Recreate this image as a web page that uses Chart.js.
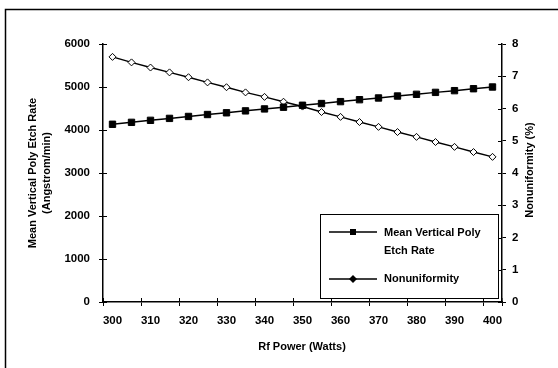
<!DOCTYPE html>
<html>
<head>
<meta charset="utf-8">
<script src="https://cdn.jsdelivr.net/npm/chart.js@4.4.1/dist/chart.umd.min.js"></script>
<style>
  html, body { margin: 0; padding: 0; background: #fff; }
  #wrap { position: relative; width: 558px; height: 368px; }
</style>
</head>
<body>
<div id="wrap"><canvas id="etch_chart" width="558" height="368"></canvas></div>
<script>
const rfPower = [300, 305, 310, 315, 320, 325, 330, 335, 340, 345, 350,
                 355, 360, 365, 370, 375, 380, 385, 390, 395, 400]
const etchRate = [4133, 4178, 4225, 4270, 4315, 4360, 4400, 4445, 4490, 4530, 4575,
                  4615, 4660, 4705, 4745, 4790, 4830, 4875, 4915, 4960, 5000]
const nonuniformity = [7.60, 7.43, 7.27, 7.12, 6.97, 6.81, 6.66, 6.50, 6.36, 6.21, 6.06,
                       5.89, 5.74, 5.58, 5.43, 5.27, 5.12, 4.96, 4.81, 4.65, 4.50]
const etchLabel = 'Mean Vertical Poly Etch Rate'
const nonuLabel = 'Nonuniformity'

const FONT = '"Liberation Sans", Arial, sans-serif'
Chart.defaults.font.family = FONT
Chart.defaults.color = '#000'

// frame, inner tick halves, axis titles and the legend box
const decor = {
  id: 'decor',
  afterDraw(chart) {
    const {ctx, chartArea: a, scales} = chart
    ctx.save()
    ctx.strokeStyle = '#000'
    ctx.lineWidth = 1.5
    // outer frame (top + left visible in scan)
    ctx.beginPath()
    ctx.moveTo(5.5, 368); ctx.lineTo(5.5, 9.5); ctx.lineTo(558, 9.5)
    ctx.stroke()

    // inward halves of tick marks
    ctx.lineWidth = 1
    ctx.beginPath()
    scales.y.ticks.forEach(t => {
      const py = Math.round(scales.y.getPixelForValue(t.value)) + 0.5
      ctx.moveTo(a.left, py); ctx.lineTo(a.left + 4, py)
    })
    scales.y1.ticks.forEach(t => {
      const py = Math.round(scales.y1.getPixelForValue(t.value)) + 0.5
      ctx.moveTo(a.right, py); ctx.lineTo(a.right - 4, py)
    })
    const cw = (a.right - a.left) / rfPower.length
    for (let i = 0; i <= rfPower.length; i += 2) {
      const px = Math.round(scales.x.getPixelForValue(i) - cw / 2) + 0.5
      ctx.moveTo(px, a.bottom); ctx.lineTo(px, a.bottom - 4)
    }
    ctx.moveTo(a.right, a.bottom); ctx.lineTo(a.right, a.bottom - 4)
    ctx.stroke()

    // axis titles
    ctx.fillStyle = '#000'
    ctx.font = 'bold 11px ' + FONT
    ctx.textAlign = 'center'
    ctx.textBaseline = 'middle'
    ctx.fillText('Rf Power (Watts)', 302, 347)
    ctx.save()
    ctx.translate(33, 173); ctx.rotate(-Math.PI / 2)
    ctx.fillText('Mean Vertical Poly Etch Rate', 0, 0)
    ctx.fillText('(Angstrom/min)', 0, 14)
    ctx.restore()
    ctx.save()
    ctx.translate(530, 170); ctx.rotate(-Math.PI / 2)
    ctx.fillText('Nonuniformity (%)', 0, 0)
    ctx.restore()

    // legend box
    const lx = 320, ly = 214, lw = 178, lh = 84
    ctx.fillStyle = '#fff'
    ctx.fillRect(lx, ly, lw, lh)
    ctx.lineWidth = 1
    ctx.strokeRect(lx + 0.5, ly + 0.5, lw, lh)
    ctx.lineWidth = 1.5
    ctx.beginPath()
    ctx.moveTo(329, 232); ctx.lineTo(377, 232)
    ctx.moveTo(329, 279); ctx.lineTo(377, 279)
    ctx.stroke()
    ctx.fillStyle = '#000'
    ctx.fillRect(350, 229, 6, 6)
    ctx.beginPath()
    ctx.moveTo(353, 275); ctx.lineTo(357, 279); ctx.lineTo(353, 283); ctx.lineTo(349, 279)
    ctx.closePath(); ctx.fill()
    ctx.font = 'bold 11px ' + FONT
    ctx.textAlign = 'left'
    ctx.fillText('Mean Vertical Poly', 384, 233)
    ctx.fillText('Etch Rate', 384, 251)
    ctx.fillText(nonuLabel, 384, 279)
    ctx.restore()
  }
}

const tickFont = {size: 11.5, weight: 'bold'}

new Chart(document.getElementById('etch_chart').getContext('2d'), {
  type: 'line',
  data: {
    labels: rfPower.map(String),
    datasets: [{
      label: etchLabel,
      data: etchRate,
      yAxisID: 'y',
      borderColor: '#000',
      borderWidth: 1.5,
      backgroundColor: '#000',
      pointStyle: 'rect',
      pointRadius: 4.5,
      pointBorderWidth: 1,
      pointBackgroundColor: '#000',
      tension: 0
    }, {
      label: nonuLabel,
      data: nonuniformity,
      yAxisID: 'y1',
      borderColor: '#000',
      borderWidth: 1.5,
      pointStyle: 'rectRot',
      pointRadius: 3.5,
      pointBorderWidth: 1,
      pointBackgroundColor: '#fff',
      tension: 0
    }]
  },
  options: {
    responsive: false,
    animation: false,
    layout: {padding: {top: 44, left: 0, right: 0, bottom: 0}},
    plugins: {legend: {display: false}, tooltip: {enabled: false}},
    scales: {
      x: {
        type: 'category',
        offset: true,
        afterFit: s => { s.height = 66 },
        border: {color: '#000', width: 1.5},
        grid: {
          offset: true,
          drawOnChartArea: false,
          tickLength: 4,
          color: c => (c.index === undefined || c.index % 2 === 0) ? '#000' : 'rgba(0,0,0,0)'
        },
        ticks: {
          autoSkip: false,
          maxRotation: 0,
          padding: 8,
          font: tickFont,
          callback: (v, i) => i % 2 === 0 ? rfPower[i] : ''
        }
      },
      y: {
        position: 'left',
        min: 0, max: 6000,
        afterFit: s => { s.width = 103 },
        border: {color: '#000', width: 1.5},
        grid: {drawOnChartArea: false, tickLength: 4, color: '#000'},
        ticks: {stepSize: 1000, padding: 9, font: tickFont, callback: v => String(v)}
      },
      y1: {
        position: 'right',
        min: 0, max: 8,
        afterFit: s => { s.width = 56 },
        border: {color: '#000', width: 1.5},
        grid: {drawOnChartArea: false, tickLength: 4, color: '#000'},
        ticks: {stepSize: 1, padding: 6, font: tickFont, callback: v => String(v)}
      }
    }
  },
  plugins: [decor]
})
</script>
</body>
</html>
